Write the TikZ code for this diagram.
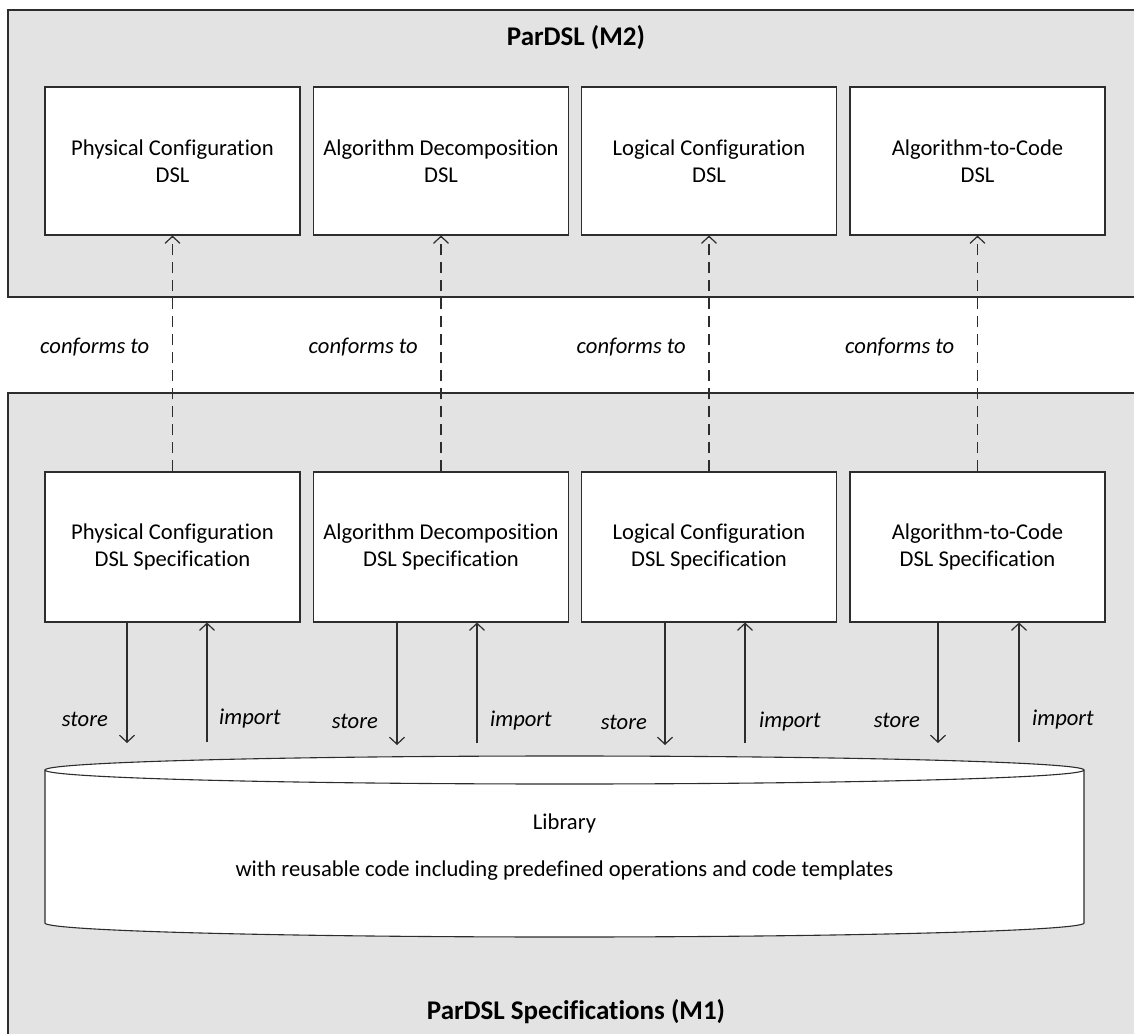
\documentclass[tikz,border=0pt]{standalone}
\usepackage{fontspec}
\setmainfont{Carlito}[Ligatures=NoCommon]
\usetikzlibrary{arrows.meta}
\definecolor{panelgray}{RGB}{226,227,226}
\definecolor{edge}{RGB}{45,45,45}
\begin{document}
\begin{tikzpicture}[x=1pt,y=-1pt,
  panel/.style={draw=edge, line width=1.2pt, fill=panelgray},
  dslbox/.style={draw=edge, line width=1.1pt, fill=white, minimum width=255pt,
    align=center, font=\fontsize{22.6}{27}\selectfont, inner sep=0pt},
  paneltitle/.style={font=\fontsize{27}{32}\selectfont\bfseries, inner sep=0pt},
  lbl/.style={font=\fontsize{22.6}{27}\selectfont\itshape, inner sep=0pt},
  libtext/.style={font=\fontsize{22.6}{27}\selectfont, inner sep=0pt},
  tip/.style={-{Straight Barb[length=7pt,width=15pt]}},
  conf/.style={draw=edge, line width=1.2pt, dash pattern=on 11pt off 7pt, tip},
  flow/.style={draw=edge, line width=1.2pt, tip},
]
\clip (0,0) rectangle (1134,1033);
\fill[white] (0,0) rectangle (1134,1033);

% metamodel level and model level panels
\draw[panel] (8,10) rectangle (1150,297);
\draw[panel] (8,393) rectangle (1150,1050);
\node[paneltitle] (m2title) at (576,38) {ParDSL (M2)};
\node[paneltitle] (m1title) at (576,1012) {ParDSL Specifications (M1)};

% DSLs
\node[dslbox, minimum height=148pt] (d1) at (172.5,161) {Physical Configuration\\DSL};
\node[dslbox, minimum height=148pt] (d2) at (441,161) {Algorithm Decomposition\\DSL};
\node[dslbox, minimum height=148pt] (d3) at (709,161) {Logical Configuration\\DSL};
\node[dslbox, minimum height=148pt] (d4) at (977.5,161) {Algorithm-to-Code\\DSL};

% DSL specifications
\node[dslbox, minimum height=150pt] (s1) at (172.5,547) {Physical Configuration\\DSL Specification};
\node[dslbox, minimum height=150pt] (s2) at (441,547) {Algorithm Decomposition\\DSL Specification};
\node[dslbox, minimum height=150pt] (s3) at (709,547) {Logical Configuration\\DSL Specification};
\node[dslbox, minimum height=150pt] (s4) at (977.5,547) {Algorithm-to-Code\\DSL Specification};

% conformance relations
\foreach \i in {1,...,4}{
  \draw[conf] (s\i.north) -- (d\i.south);
  \node[lbl, anchor=east] (c\i) at ([xshift=-23pt]s\i.north |- 0,347) {conforms to};
}

% library cylinder
\filldraw[draw=edge, line width=1.1pt, fill=white]
  (45,770) -- (45,923) arc[start angle=180, end angle=0, x radius=519.5, y radius=14]
  -- (1084,770) arc[start angle=0, end angle=-180, x radius=519.5, y radius=14] -- cycle;
\draw[edge, line width=1.1pt] (45,770) arc[start angle=180, end angle=0, x radius=519.5, y radius=14];
\node[libtext] (lib) at (564.5,823) {Library};
\node[libtext] (libdesc) at (564.5,871) {with reusable code including predefined operations and code templates};

% store / import connectors
\coordinate (st1) at (127,743);  \coordinate (im1) at (207,742);
\coordinate (st2) at (397,745);  \coordinate (im2) at (477,743);
\coordinate (st3) at (665,745);  \coordinate (im3) at (745,743);
\coordinate (st4) at (938,743);  \coordinate (im4) at (1019,742);
\foreach \i in {1,...,4}{
  \draw[flow] (s\i.south -| st\i) -- (st\i);
  \draw[flow] (im\i) -- (im\i |- s\i.south);
}
\node[lbl, anchor=east] (t1) at (108,719) {store};
\node[lbl, anchor=west] (i1) at (219,719) {import};
\node[lbl, anchor=east] (t2) at (378,721) {store};
\node[lbl, anchor=west] (i2) at (490,721) {import};
\node[lbl, anchor=east] (t3) at (647,722) {store};
\node[lbl, anchor=west] (i3) at (759,722) {import};
\node[lbl, anchor=east] (t4) at (920,720) {store};
\node[lbl, anchor=west] (i4) at (1032,720) {import};
\end{tikzpicture}
\end{document}
